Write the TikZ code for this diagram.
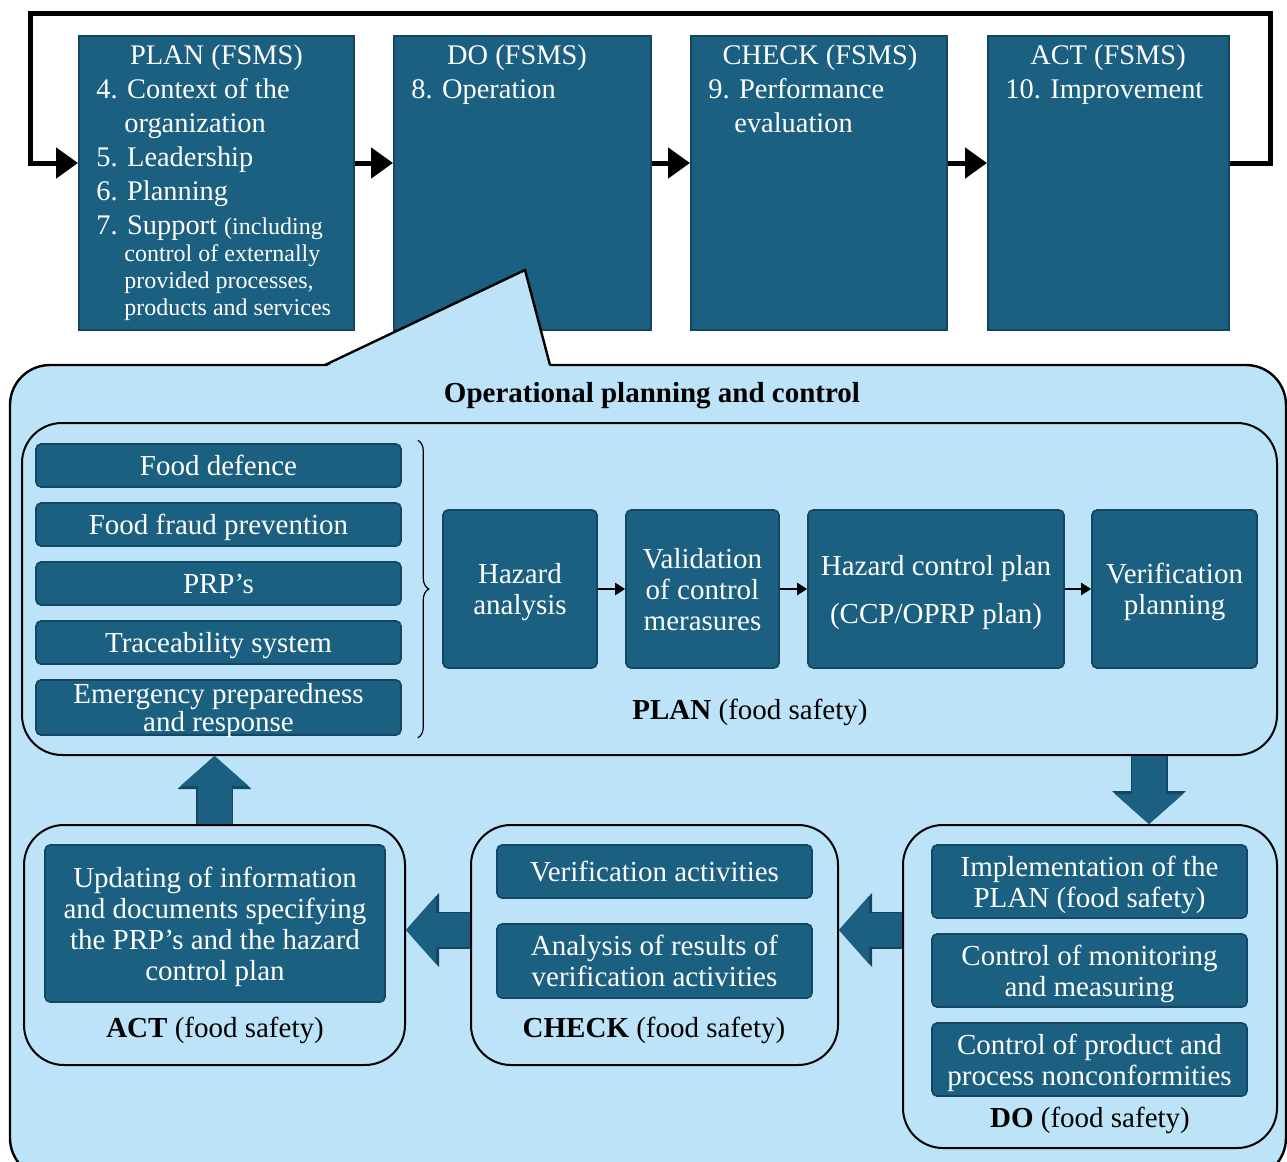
\documentclass[tikz,border=0pt]{standalone}
\usepackage{fontspec}
\setmainfont{Liberation Serif}
\usetikzlibrary{arrows.meta,decorations.pathreplacing}

\definecolor{fsteal}{RGB}{27,96,129}
\definecolor{fsdark}{RGB}{18,70,98}
\definecolor{fslight}{RGB}{189,227,248}
\newcommand\fsfnt{\fontsize{14.5}{15.5}\selectfont}
\newcommand\topfnt{\fontsize{14.2}{17}\selectfont}
\newcommand\smallfnt{\fontsize{12}{13.5}\selectfont}

\begin{document}
\begin{tikzpicture}[x=0.5pt,y=-0.5pt,
  fsmsbox/.style={draw=fsdark, line width=1pt, fill=fsteal, minimum height=147pt, inner sep=0pt},
  fsmstitle/.style={text=white, anchor=base, inner sep=0pt, font=\topfnt},
  fsmstext/.style={text=white, anchor=base west, inner sep=0pt, font=\topfnt},
  fsmssmall/.style={text=white, anchor=base west, inner sep=0pt, font=\smallfnt},
  fsmsarrow/.style={line width=2.5pt, -{Triangle[length=11pt,width=15pt]}},
  phase/.style={draw=black, line width=1pt, fill=fslight, rounded corners=20pt, inner sep=0pt},
  fsbox/.style={draw=fsdark, line width=0.8pt, fill=fsteal, rounded corners=2.5pt,
    text=white, align=center, inner sep=0pt, text depth=0pt, font=\fsfnt},
  phaselabel/.style={inner sep=0pt, font=\fsfnt},
  procarrow/.style={line width=1pt, -{Triangle[length=5pt,width=6pt]}},
  blockarrow/.style={line width=17pt, draw=fsteal, -{Triangle[length=15pt,width=34pt,line width=0pt]},
    preaction={draw=fsdark, line width=18.5pt, -{Triangle[length=16.5pt,width=37pt,line width=0pt]}}}
]
\useasboundingbox (0,0) rectangle (1287,1162);

% FSMS cycle
\node[fsmsbox, minimum width=137.5pt] (planF) at (216.5,183) {};
\node[fsmsbox, minimum width=128.5pt] (doF) at (522.5,183) {};
\node[fsmsbox, minimum width=128pt] (checkF) at (819,183) {};
\node[fsmsbox, minimum width=120.5pt] (actF) at (1108.5,183) {};

\node[fsmstitle] (planT) at (216.5,64) {PLAN (FSMS)};
\node[fsmstitle] (doT) at (517,64) {DO (FSMS)};
\node[fsmstitle] (checkT) at (820,64) {CHECK (FSMS)};
\node[fsmstitle] (actT) at (1108,64) {ACT (FSMS)};

\node[fsmstext] (cl4) at (96,98) {4. Context of the};
\node[fsmstext] (cl4b) at (124,132) {organization};
\node[fsmstext] (cl5) at (96,166) {5. Leadership};
\node[fsmstext] (cl6) at (96,200) {6. Planning};
\node[fsmstext] (cl7) at (96,234) {7. Support {\smallfnt(including}};
\node[fsmssmall] (cl7b) at (124,261) {control of externally};
\node[fsmssmall] (cl7c) at (124,288) {provided processes,};
\node[fsmssmall] (cl7d) at (124,315) {products and services};
\node[fsmstext] (cl8) at (411,98) {8. Operation};
\node[fsmstext] (cl9) at (708,98) {9. Performance};
\node[fsmstext] (cl9b) at (734,132) {evaluation};
\node[fsmstext] (cl10) at (1005,98) {10. Improvement};

\coordinate (loopR) at (1270,13);
\coordinate (loopL) at (30,13);
\draw[fsmsarrow] ([yshift=10pt]planF.east) -- ([yshift=10pt]doF.west);
\draw[fsmsarrow] ([yshift=10pt]doF.east) -- ([yshift=10pt]checkF.west);
\draw[fsmsarrow] ([yshift=10pt]checkF.east) -- ([yshift=10pt]actF.west);
\draw[fsmsarrow] ([yshift=10pt]actF.east) -| (loopR) -- (loopL) |- ([yshift=10pt]planF.west);

% callout
\draw[fill=fslight, line width=1.2pt, rounded corners=20pt] (10,365) rectangle (1286,1178);
\fill[fslight] (325,367) -- (525,270) -- (550,367) -- cycle;
\draw[line width=1.2pt] (325,365) -- (525,270) -- (550,365);
\node[inner sep=0pt, font=\fsfnt\bfseries] (opTitle) at (652,396) {Operational planning and control};

% PLAN (food safety)
\node[phase, minimum width=627.5pt, minimum height=166pt] (planFS) at (649.5,589) {};
\foreach \n/\y/\t in {fdef/465.5/Food defence, ffraud/524.5/Food fraud prevention,
    prp/583.5/PRP’s, trace/642.5/Traceability system}
  \node[fsbox, minimum width=182.5pt, minimum height=21.5pt] (\n) at (218.5,\y) {\t};
\node[fsbox, minimum width=182.5pt, minimum height=27.5pt, font=\fontsize{14.5}{11.5}\selectfont]
  (emerg) at (218.5,707.5) {Emergency preparedness\\and response};
\draw[line width=0.6pt, decorate, decoration={brace, amplitude=5.5pt}]
  ([xshift=8pt,yshift=1.5pt]fdef.north east) -- ([xshift=8pt,yshift=-1pt]emerg.south east);

\node[fsbox, minimum width=77pt, minimum height=79pt] (hazA) at (520,589) {Hazard\\analysis};
\node[fsbox, minimum width=76.5pt, minimum height=79pt] (valid) at (702.5,589) {Validation\\of control\\merasures};
\node[fsbox, minimum width=128pt, minimum height=79pt] (hcp) at (936,589) {Hazard control plan\\[8.5pt](CCP/OPRP plan)};
\node[fsbox, minimum width=82.5pt, minimum height=79pt] (verP) at (1174.5,589) {Verification\\planning};
\draw[procarrow] (hazA) -- (valid);
\draw[procarrow] (valid) -- (hcp);
\draw[procarrow] (hcp) -- (verP);
\node[phaselabel] (planL) at (750,712) {\textbf{PLAN} (food safety)};

% DO (food safety)
\node[phase, minimum width=187pt, minimum height=161.5pt] (doFS) at (1090,986.5) {};
\node[fsbox, minimum width=157.5pt, minimum height=36.5pt] (impl) at (1089.5,881.5) {Implementation of the\\PLAN (food safety)};
\node[fsbox, minimum width=157.5pt, minimum height=36.5pt] (ctrlMon) at (1089.5,970.5) {Control of monitoring\\and measuring};
\node[fsbox, minimum width=157.5pt, minimum height=36.5pt] (ctrlProd) at (1089.5,1059.5) {Control of product and\\process nonconformities};
\node[phaselabel] (doL) at (1090,1120) {\textbf{DO} (food safety)};

% CHECK (food safety)
\node[phase, minimum width=183.5pt, minimum height=120pt] (checkFS) at (654.5,945) {};
\node[fsbox, minimum width=157.5pt, minimum height=26.5pt] (verAct) at (654.5,871.5) {Verification activities};
\node[fsbox, minimum width=157.5pt, minimum height=37pt] (anaRes) at (654.5,961) {Analysis of results of\\verification activities};
\node[phaselabel] (checkL) at (654,1030) {\textbf{CHECK} (food safety)};

% ACT (food safety)
\node[phase, minimum width=190.5pt, minimum height=120pt] (actFS) at (214.5,945) {};
\node[fsbox, minimum width=170pt, minimum height=78.5pt] (upd) at (215,923.5)
  {Updating of information\\and documents specifying\\the PRP’s and the hazard\\control plan};
\node[phaselabel] (actL) at (215,1030) {\textbf{ACT} (food safety)};

% food safety cycle
\coordinate (downX) at (1149,0);
\coordinate (leftY) at (0,930);
\draw[blockarrow] (planFS.south -| downX) -- (doFS.north -| downX);
\draw[blockarrow] (doFS.west |- leftY) -- (checkFS.east |- leftY);
\draw[blockarrow] (checkFS.west |- leftY) -- (actFS.east |- leftY);
\draw[blockarrow] (actFS.north) -- (planFS.south -| actFS.north);
\end{tikzpicture}
\end{document}
